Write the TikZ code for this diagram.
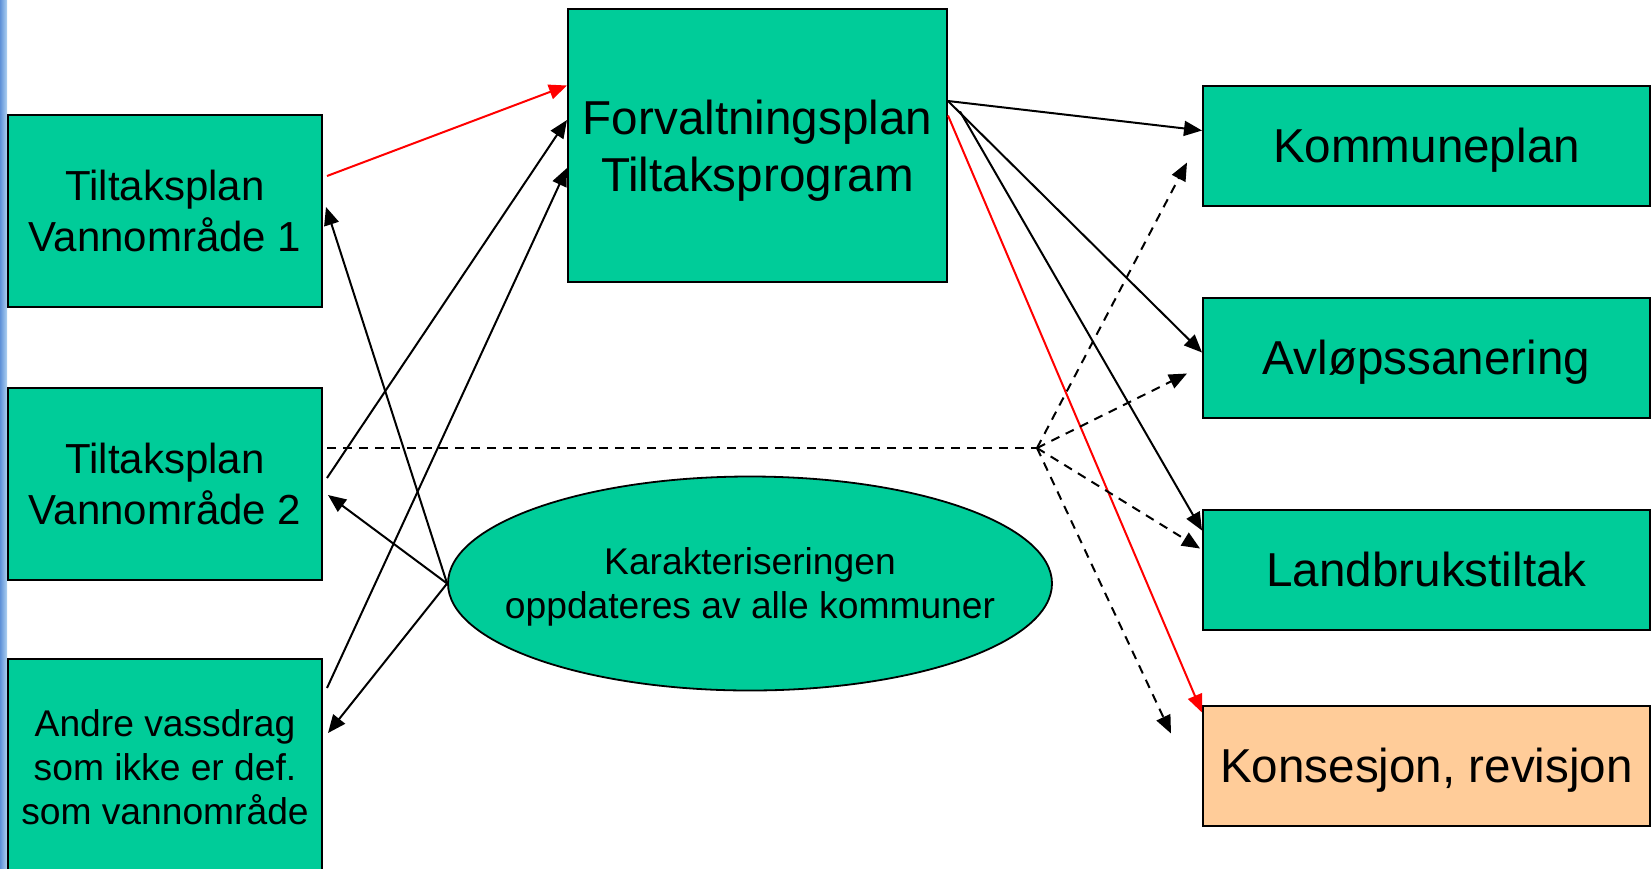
\documentclass[tikz,border=0pt]{standalone}
\usepackage{fontspec}
\setmainfont{Liberation Sans}
\usetikzlibrary{shapes.geometric,arrows.meta,positioning}

\definecolor{plangreen}{RGB}{0,204,153}
\definecolor{planorange}{RGB}{255,204,153}
\definecolor{stripdark}{RGB}{95,145,215}
\definecolor{striplight}{RGB}{175,210,242}

\tikzstyle{area} = [draw, rectangle, fill=plangreen, line width=1pt, inner sep=0pt, align=center, minimum width=157pt, minimum height=96pt, font=\fontsize{21}{25.5}\selectfont]
\tikzstyle{plan} = [draw, rectangle, fill=plangreen, line width=1pt, inner sep=0pt, align=center, text depth=0pt, minimum width=223.5pt, minimum height=60pt, font=\fontsize{23.8}{28.5}\selectfont]
\tikzstyle{survey} = [draw, ellipse, fill=plangreen, line width=0.9pt, inner sep=0pt, inner xsep=-16pt, text depth=0pt, align=center, minimum width=302pt, minimum height=107pt, font=\fontsize{18.6}{22}\selectfont]
\tikzstyle{link} = [->, line width=1pt]
\tikzstyle{redlink} = [link, red]
\tikzstyle{dashlink} = [link, dash pattern=on 4.5pt off 3.5pt]

\begin{document}
\begin{tikzpicture}[x=0.5pt, y=0.5pt, node distance=106pt, >={Triangle[length=9pt,width=7.5pt]}]
		\useasboundingbox (0,0) rectangle (1652,-868);
		\shade [left color=stripdark, right color=striplight] (0,0) rectangle (7,-868);

		\node [area] (tp1) at (165,-211) {Tiltaksplan\\Vannområde 1};
		\node [area, below of=tp1, node distance=136.25pt] (tp2) {Tiltaksplan\\Vannområde 2};
		\node [area, below of=tp2, node distance=141.75pt, minimum height=108pt, font=\fontsize{18.6}{22}\selectfont] (tp3) {Andre vassdrag\\som ikke er def.\\som vannområde};
		\node [plan, minimum width=189.5pt, minimum height=136.5pt] (fp) at (757.5,-145.5) {Forvaltningsplan\\Tiltaksprogram};
		\node [plan, right of=fp, node distance=334.5pt] (kp) {Kommuneplan};
		\node [plan, below of=kp] (av) {Avløpssanering};
		\node [plan, below of=av] (lb) {Landbrukstiltak};
		\node [plan, below of=lb, node distance=98pt, fill=planorange] (ks) {Konsesjon, revisjon};
		\node [survey] (kar) at (750,-583.5) {Karakteriseringen\\oppdateres av alle kommuner};
		\coordinate (hub) at (1037,-448);

		% into the plan
		\draw [redlink] ([xshift=2pt,yshift=17.5pt]tp1.east) -- ([yshift=30pt]fp.west);
		\draw [link] ([xshift=2pt,yshift=2.75pt]tp2.east) -- ([yshift=12.75pt]fp.west);
		\draw [link] ([xshift=2pt,yshift=39.5pt]tp3.east) -- ([yshift=-11.25pt]fp.west);

		% back to the areas
		\draw [link] (kar.west) -- ([xshift=1.5pt,yshift=2pt]tp1.east);
		\draw [link] (kar.west) -- ([xshift=2.5pt,yshift=-5.75pt]tp2.east);
		\draw [link] (kar.west) -- ([xshift=2.5pt,yshift=17pt]tp3.east);

		% out to the measures
		\draw [link] ([yshift=22.25pt]fp.east) -- ([yshift=7.5pt]kp.west);
		\draw [link] ([yshift=22.25pt]fp.east) -- ([yshift=2.5pt]av.west);
		\draw [link] ([xshift=6pt,yshift=17pt]fp.east) -- ([yshift=19.5pt]lb.west);
		\draw [redlink] ([yshift=15pt]fp.east) -- ([yshift=26.5pt]ks.west);

		% dashed
		\draw [dashlink, -] ([xshift=2pt,yshift=17.75pt]tp2.east) -- (hub);
		\draw [dashlink] (hub) -- ([xshift=-7.5pt,yshift=-8.5pt]kp.west);
		\draw [dashlink] (hub) -- ([xshift=-7.5pt,yshift=-8pt]av.west);
		\draw [dashlink] (hub) -- ([xshift=-1pt,yshift=10.5pt]lb.west);
		\draw [dashlink] (hub) -- ([xshift=-15.5pt,yshift=16pt]ks.west);
	\end{tikzpicture}
\end{document}
